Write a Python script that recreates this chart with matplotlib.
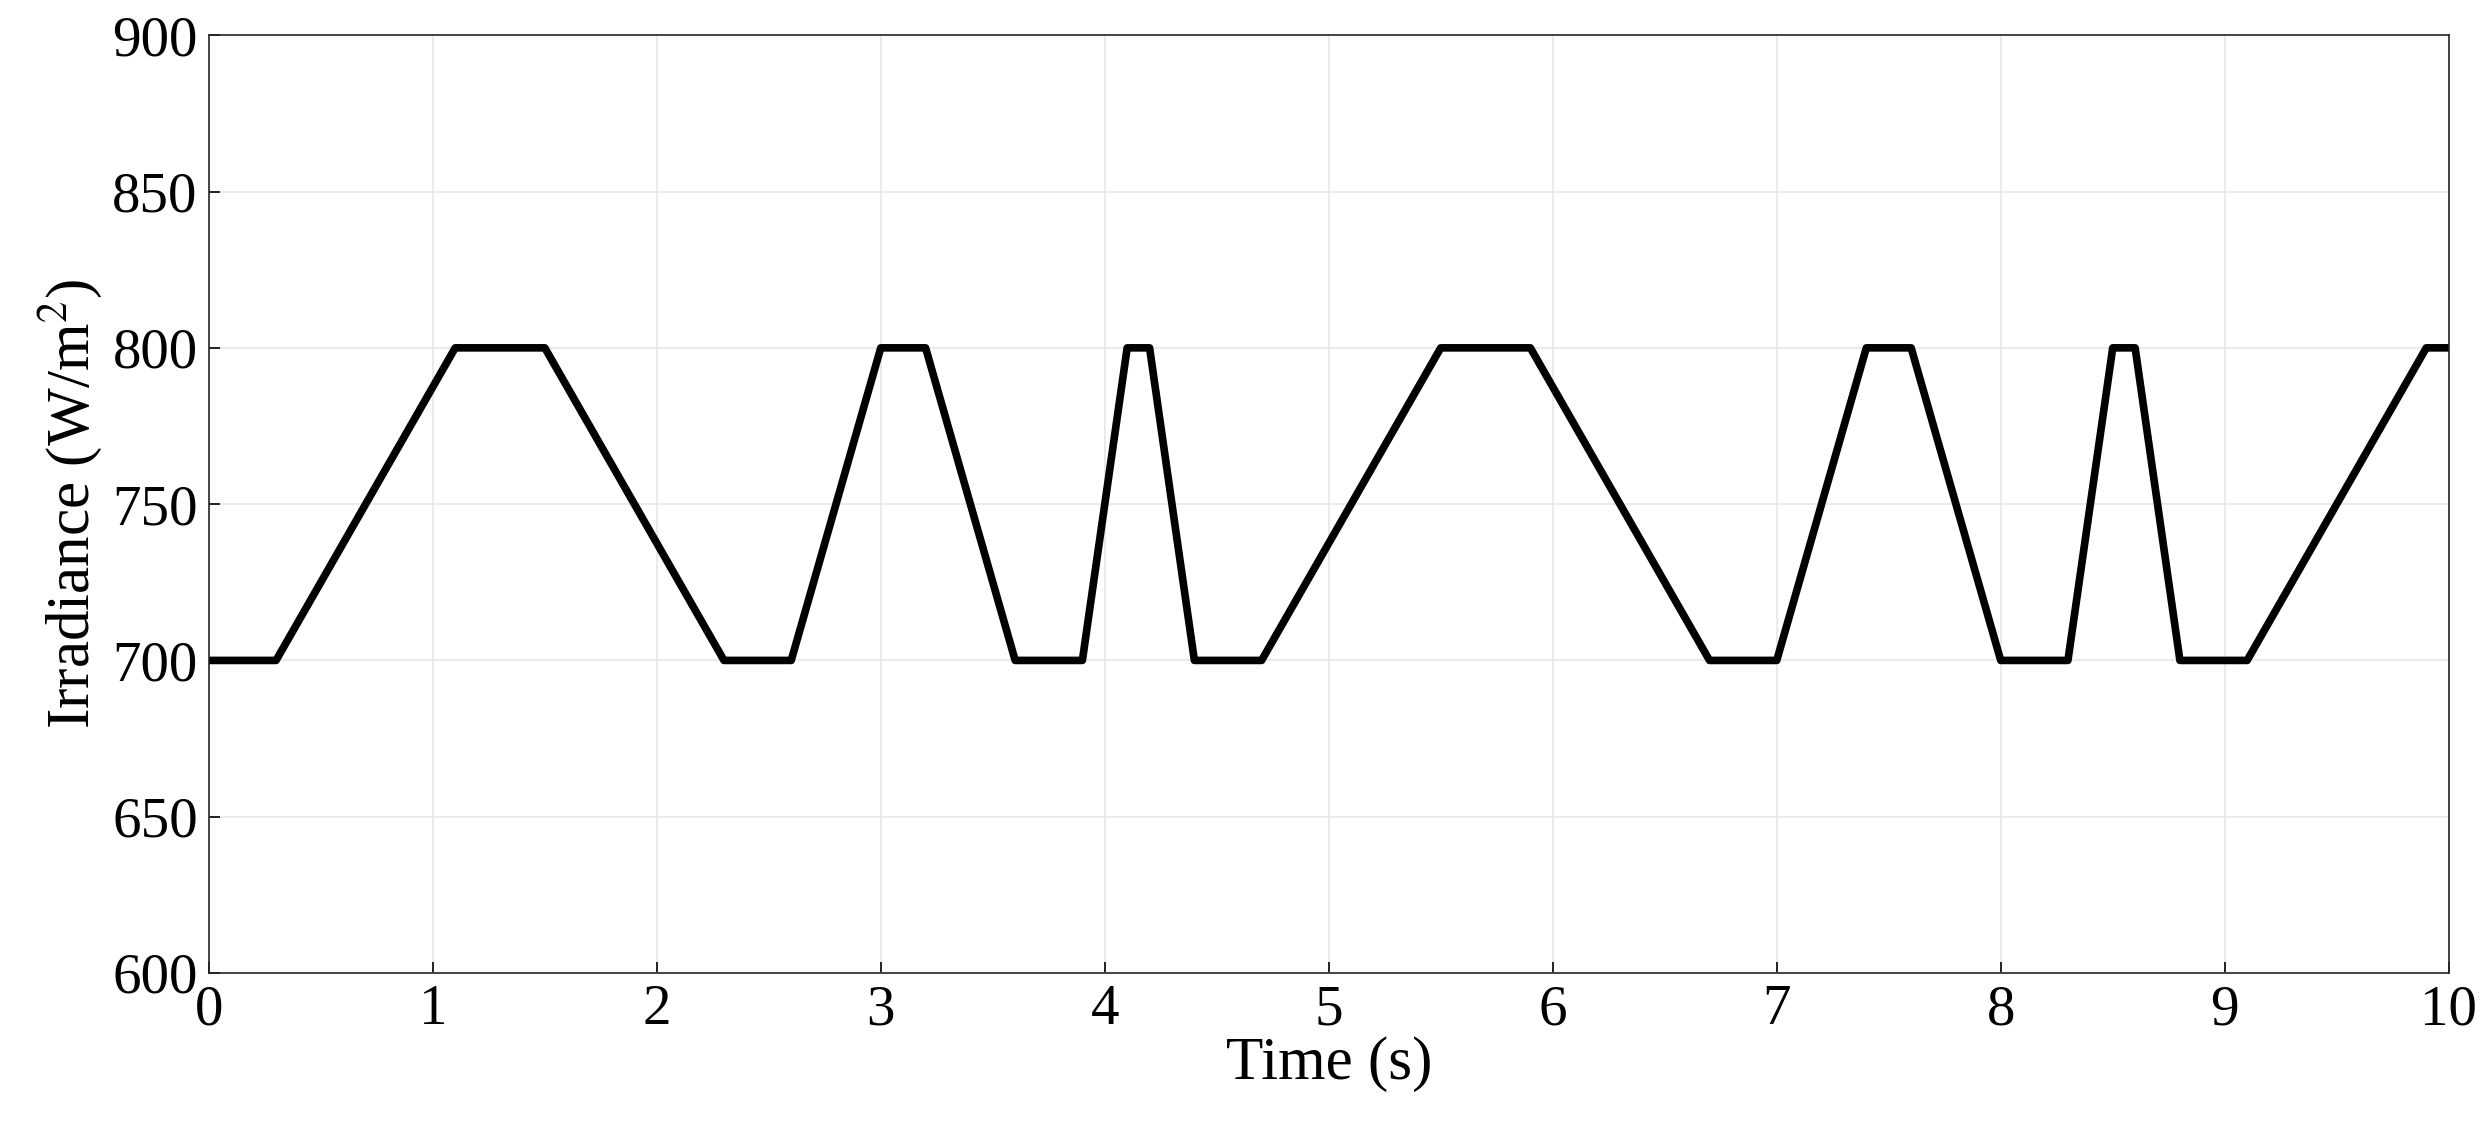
import matplotlib
matplotlib.use("Agg")
import matplotlib.pyplot as plt

# ===== Irradiance profile breakpoints =====
TIME_S = [0, 0.3, 1.1, 1.5, 2.3, 2.6, 3.0, 3.2, 3.6, 3.9, 4.1, 4.2, 4.4, 4.7,
          5.5, 5.9, 6.7, 7.0, 7.4, 7.6, 8.0, 8.3, 8.5, 8.6, 8.8, 9.1, 9.9, 10]
IRRADIANCE = [700, 700, 800, 800, 700, 700, 800, 800, 700, 700, 800, 800, 700, 700,
              800, 800, 700, 700, 800, 800, 700, 700, 800, 800, 700, 700, 800, 800]

X_TICKS = list(range(0, 11))
Y_TICKS = [600, 650, 700, 750, 800, 850, 900]

plt.rcParams["font.family"] = ["Liberation Serif", "DejaVu Serif"]
plt.rcParams["mathtext.fontset"] = "stix"

fig = plt.figure(figsize=(24.86, 11.38), dpi=100)
ax = fig.add_axes([0.084, 0.145, 0.901, 0.824])

ax.plot(TIME_S, IRRADIANCE, color="black", linewidth=5.5)

ax.set_xlim(0, 10)
ax.set_ylim(600, 900)
ax.set_xticks(X_TICKS)
ax.set_yticks(Y_TICKS)
ax.grid(True, color="#e6e6e6", linewidth=1.2)
ax.tick_params(labelsize=41, direction="in", length=8, width=1.2, pad=8)
for spine in ax.spines.values():
    spine.set_linewidth(1.2)
    spine.set_color("#262626")

ax.set_xlabel("Time (s)", fontsize=44, labelpad=0)
ax.set_ylabel(r"Irradiance (W/m$^2$)", fontsize=44, labelpad=6)

fig.savefig("out.png", dpi=100)
